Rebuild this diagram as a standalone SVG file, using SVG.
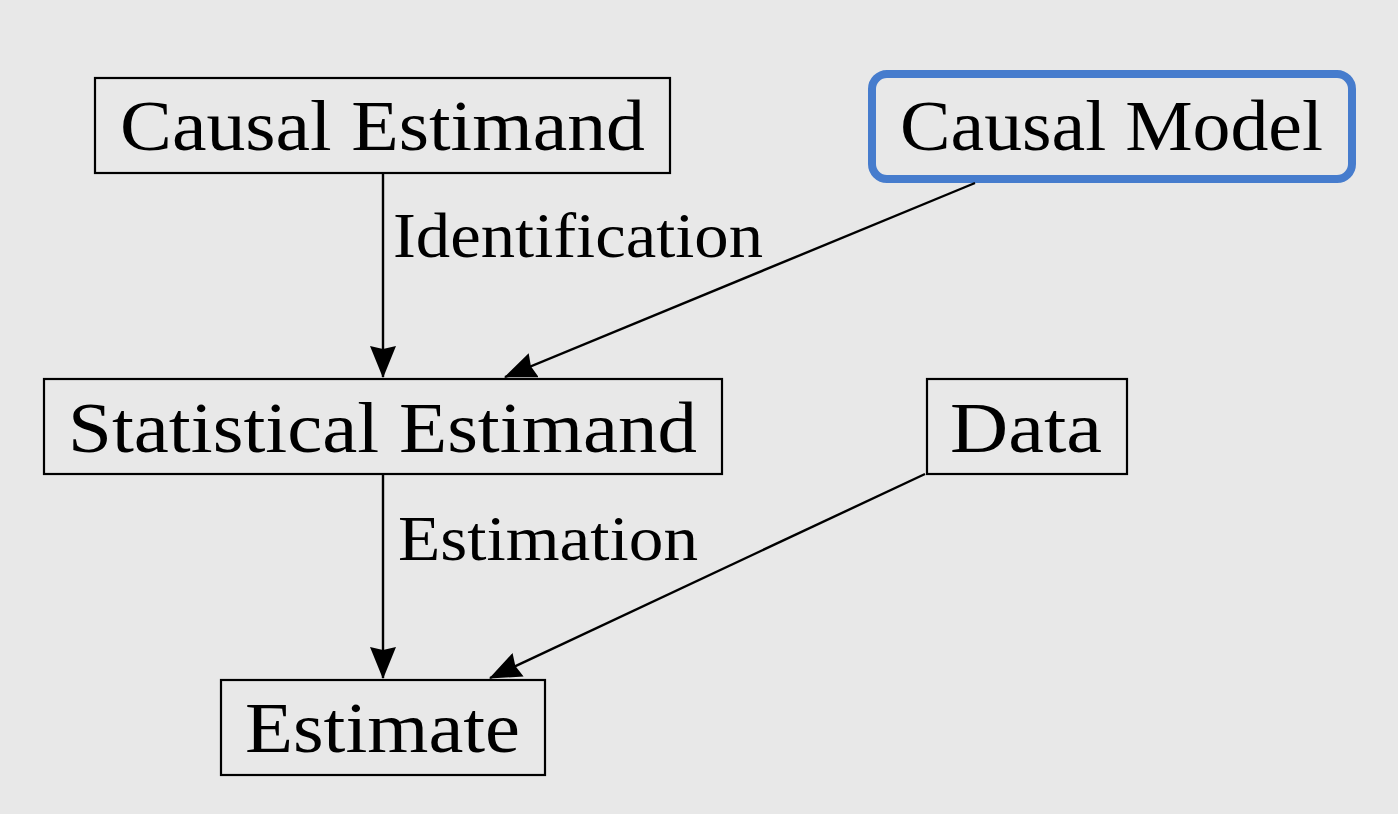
<svg xmlns="http://www.w3.org/2000/svg" width="1398" height="814" viewBox="0 0 1398 814">
<defs>
<style>
.box{fill:none;stroke:#000;stroke-width:2.2}
.lbl{font-family:"Liberation Serif","DejaVu Serif",serif;font-size:72px;fill:#000}
.edge{font-family:"Liberation Serif","DejaVu Serif",serif;font-size:64px;fill:#000}
.conn{stroke:#000;stroke-width:2.4;fill:none}
</style>
<marker id="ah" viewBox="0 0 32 26" refX="31" refY="13" markerWidth="32" markerHeight="26" markerUnits="userSpaceOnUse" orient="auto">
<path d="M0,0 L32,13 L0,26 L3,13 Z" fill="#000"/>
</marker>
</defs>
<rect width="1398" height="814" fill="#e8e8e8"/>
<g id="causal-estimand">
<rect class="box" x="95" y="78" width="575" height="95"/>
<text class="lbl" x="120" y="150" textLength="525" lengthAdjust="spacingAndGlyphs">Causal Estimand</text>
</g>
<g id="causal-model">
<rect x="872" y="74" width="480" height="105" rx="15" fill="none" stroke="#467ccd" stroke-width="8"/>
<text class="lbl" x="900" y="150" textLength="423" lengthAdjust="spacingAndGlyphs">Causal Model</text>
</g>
<g id="statistical-estimand">
<rect class="box" x="44" y="379" width="678" height="95"/>
<text class="lbl" x="68" y="452" textLength="629" lengthAdjust="spacingAndGlyphs">Statistical Estimand</text>
</g>
<g id="data">
<rect class="box" x="927" y="379" width="200" height="95"/>
<text class="lbl" x="950" y="452" textLength="152" lengthAdjust="spacingAndGlyphs">Data</text>
</g>
<g id="estimate">
<rect class="box" x="221" y="680" width="324" height="95"/>
<text class="lbl" x="245" y="752" textLength="275" lengthAdjust="spacingAndGlyphs">Estimate</text>
</g>
<g id="connectors">
<line class="conn" x1="383" y1="174" x2="383" y2="377" marker-end="url(#ah)"/>
<line class="conn" x1="975" y1="183" x2="505" y2="377" marker-end="url(#ah)"/>
<line class="conn" x1="383" y1="475" x2="383" y2="678" marker-end="url(#ah)"/>
<line class="conn" x1="925" y1="474" x2="490" y2="678" marker-end="url(#ah)"/>
<text class="edge" x="393" y="257" textLength="370" lengthAdjust="spacingAndGlyphs">Identification</text>
<text class="edge" x="398" y="560" textLength="300" lengthAdjust="spacingAndGlyphs">Estimation</text>
</g>
</svg>
